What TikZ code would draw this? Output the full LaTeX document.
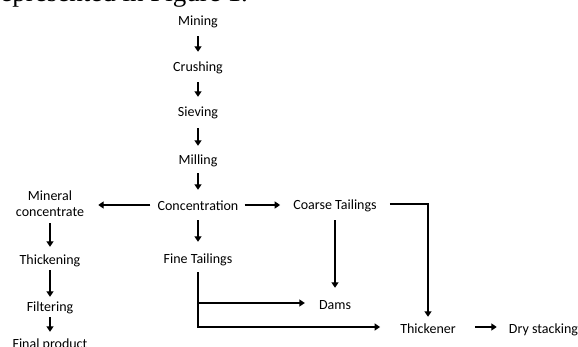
\documentclass[tikz,border=0pt]{standalone}
\usepackage{fontspec}
\setmainfont{Carlito}
\newfontfamily\docserif{Liberation Serif}
\usetikzlibrary{arrows.meta}
\begin{document}
\begin{tikzpicture}[x=1pt,y=-1pt,
  lbl/.style={inner sep=0pt, text height=12pt, text depth=0pt, font=\fontsize{14}{16}\selectfont},
  arr/.style={line width=2pt, -{Triangle[length=5.5pt,width=7pt]}, miter limit=10}]
\useasboundingbox[clip] (0,0) rectangle (578,347);
\node[inner sep=0pt, anchor=base east, font=\docserif\fontsize{27}{30}\selectfont] (doc) at (248,2) {represented in Figure 1.};
% main column
\node[lbl, anchor=base] (mining) at (198,26) {Mining};
\node[lbl, anchor=base] (crushing) at (198,72) {Crushing};
\node[lbl, anchor=base] (sieving) at (198,117) {Sieving};
\node[lbl, anchor=base] (milling) at (198,165) {Milling};
\node[lbl, anchor=base] (conc) at (198,211) {Concentration};
\node[lbl, anchor=base] (fine) at (198,264) {Fine Tailings};
% left column
\node[inner sep=0pt, align=center, font=\fontsize{14}{16}\selectfont] (mineral) at (50,204) {Mineral\\concentrate};
\node[lbl, anchor=base] (thick) at (50,265) {Thickening};
\node[lbl, anchor=base] (filter) at (50,311) {Filtering};
\node[lbl, anchor=base] (final) at (50,348) {Final product};
% right
\node[lbl, anchor=base] (coarse) at (335,210) {Coarse Tailings};
\node[lbl, anchor=base] (dams) at (335,309) {Dams};
\node[lbl, anchor=base] (thickener) at (428,333) {Thickener};
\node[lbl, anchor=base] (dry) at (543.5,333) {Dry stacking};
% vertical arrows
\draw[arr, shorten <=10pt, shorten >=8pt] (mining) -- (crushing);
\draw[arr, shorten <=10pt, shorten >=8pt] (crushing) -- (sieving);
\draw[arr, shorten <=11pt, shorten >=7pt] (sieving) -- (milling);
\draw[arr, shorten <=8pt, shorten >=9pt] (milling) -- (conc);
\draw[arr, shorten <=9pt, shorten >=10pt] (conc) -- (fine);
\draw[arr, shorten <=6pt, shorten >=6pt] (mineral.south) -- (thick.north);
\draw[arr, shorten <=5pt, shorten >=2pt] (thick) -- (filter);
\draw[arr, shorten <=6pt, shorten >=4pt] (filter) -- (final);
% horizontal arrows
\draw[arr, shorten <=7pt, shorten >=14pt] (conc.west) -- (conc.west -| mineral.east);
\draw[arr, shorten <=6pt, shorten >=13pt] (conc.east) -- (conc.east -| coarse.west);
\draw[arr, shorten <=10pt, shorten >=9pt] (coarse.south) -- (dams.north);
\draw[arr, shorten <=13pt, shorten >=4pt] (coarse.east) -| (thickener.north);
\draw[arr, shorten <=8pt, shorten >=14pt] (fine.south) |- (dams.west);
\draw[arr, shorten <=8pt, shorten >=20pt] (fine.south) |- (thickener.west);
\draw[arr, shorten <=19pt, shorten >=12pt] (thickener.east) -- (dry.west);
\end{tikzpicture}
\end{document}
